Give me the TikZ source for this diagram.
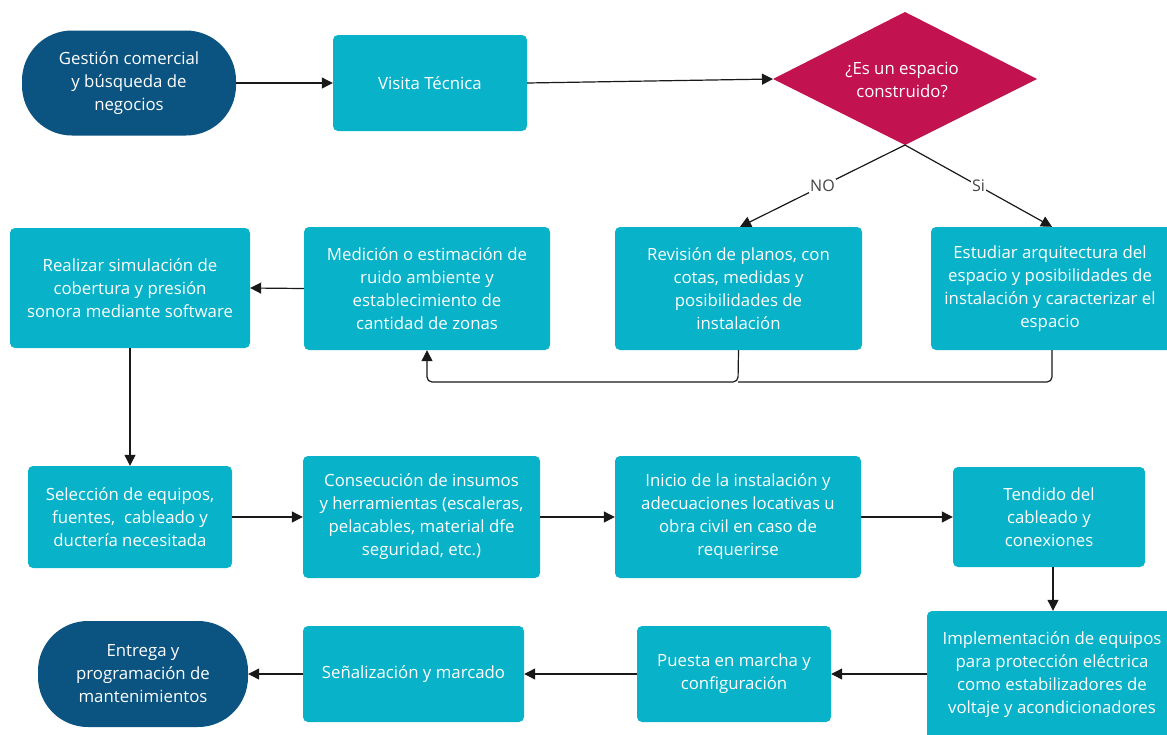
\documentclass[tikz,border=0pt]{standalone}
\usepackage{fontspec}
\setmainfont{Open Sans}
\usetikzlibrary{arrows.meta,shapes.geometric}
\definecolor{cyanbox}{HTML}{08B2C9}
\definecolor{darkblue}{HTML}{0B5381}
\definecolor{crimson}{HTML}{C2124F}
\definecolor{lbl}{HTML}{444444}
\tikzset{
  txt/.style={font=\fontsize{16.8}{23}\selectfont},
  box/.style={fill=cyanbox, rounded corners=5pt, text=white, align=center, inner sep=0pt, txt},
  term/.style={fill=darkblue, rounded corners=50pt, text=white, align=center, inner sep=0pt, txt},
  conn/.style={draw=black!90, line width=1.2pt, -{Triangle[length=11pt,width=11pt]}},
  plain/.style={draw=black!90, line width=1.2pt},
  edgelbl/.style={fill=white, text=lbl, inner sep=1pt, font=\fontsize{16}{18}\selectfont}
}
\begin{document}
\begin{tikzpicture}[x=1pt,y=-1pt]
\useasboundingbox (0,0) rectangle (1167,734);
\clip (0,0) rectangle (1167,734);
% nodes
\node[term, minimum width=214pt, minimum height=105pt] (gest) at (129,83) {Gestión comercial\\y búsqueda de\\negocios};
\node[box, minimum width=194pt, minimum height=96pt] (visita) at (430,83) {Visita Técnica};
\coordinate (dtop) at (905,12);
\coordinate (dleft) at (773,79);
\coordinate (dright) at (1037,79);
\coordinate (dbot) at (905,145);
\fill[crimson] (dtop) -- (dright) -- (dbot) -- (dleft) -- cycle;
\node[text=white, align=center, txt] (dtxt) at (902,80) {¿Es un espacio\\construido?};
\node[box, minimum width=247pt, minimum height=123pt] (revis) at (738.5,288.5) {Revisión de planos, con\\cotas, medidas y\\posibilidades de\\instalación};
\node[box, minimum width=250pt, minimum height=123pt] (estud) at (1056,288.5) {};
\node[text=white, align=center, txt] (estudtxt) at (1050,288.5) {Estudiar arquitectura del\\espacio y posibilidades de\\instalación y caracterizar el\\espacio};
\node[box, minimum width=246pt, minimum height=123pt] (medic) at (427,288.5) {Medición o estimación de\\ruido ambiente y\\establecimiento de\\cantidad de zonas};
\node[box, minimum width=240pt, minimum height=120pt] (simul) at (130,288) {Realizar simulación de\\cobertura y presión\\sonora mediante software};
\node[box, minimum width=204pt, minimum height=102pt] (selec) at (130,517) {Selección de equipos,\\fuentes,\ \ cableado y\\ductería necesitada};
\node[box, minimum width=237pt, minimum height=122pt] (consec) at (421.5,517) {Consecución de insumos\\y herramientas (escaleras,\\pelacables, material dfe\\seguridad, etc.)};
\node[box, minimum width=246pt, minimum height=122pt] (inicio) at (738,517) {Inicio de la instalación y\\adecuaciones locativas u\\obra civil en caso de\\requerirse};
\node[box, minimum width=192pt, minimum height=100pt] (tend) at (1049,517) {Tendido del\\cableado y\\conexiones};
\node[box, minimum width=250pt, minimum height=140pt] (impl) at (1052,681) {};
\node[text=white, align=center, txt] (impltxt) at (1052,675) {Implementación de equipos\\para protección eléctrica\\como estabilizadores de\\voltaje y acondicionadores};
\node[box, minimum width=194pt, minimum height=96pt] (puesta) at (734,674) {Puesta en marcha y\\configuración};
\node[box, minimum width=221pt, minimum height=96pt] (senal) at (413.5,674) {Señalización y marcado};
\node[term, minimum width=210pt, minimum height=106pt] (entre) at (143,674) {Entrega y\\programación de\\mantenimientos};
% connectors
\draw[conn] (gest.east) -- (visita.west);
\draw[conn] (visita.east) -- (dleft);
\draw[conn] (dbot) -- node[edgelbl, pos=0.5] {NO} (revis.north -| 740,0);
\draw[conn] (dbot) -- node[edgelbl, pos=0.5] {Si} (estud.north -| 1052,0);
\coordinate (j1) at (738,382);
\draw[conn, rounded corners=5pt] (revis.south) -- (j1) -- (j1 -| medic.south) -- (medic.south);
\draw[plain, rounded corners=5pt] (estud.south -| 1052,0) -- (1052,382) -- (j1);
\draw[conn] (medic.west) -- (simul.east);
\draw[conn] (simul.south) -- (selec.north);
\draw[conn] (selec.east) -- (consec.west);
\draw[conn] (consec.east) -- (inicio.west);
\draw[conn] (inicio.east) -- (tend.west);
\draw[conn] (tend.south -| 1053,0) -- (impl.north -| 1053,0);
\draw[conn] (impl.west |- puesta.east) -- (puesta.east);
\draw[conn] (puesta.west) -- (senal.east);
\draw[conn] (senal.west) -- (entre.east);
\end{tikzpicture}
\end{document}
